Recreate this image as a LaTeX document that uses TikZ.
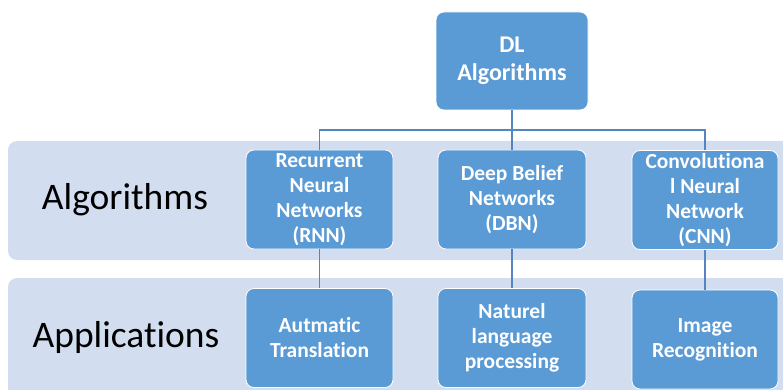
\documentclass[tikz,border=0pt]{standalone}
\usepackage{fontspec}
\setmainfont{Carlito}[Ligatures=NoCommon]
\definecolor{boxblue}{HTML}{5B9BD5}
\definecolor{bandblue}{HTML}{D2DDEF}
\definecolor{linkblue}{HTML}{5585BF}
\tikzset{
  band/.style={fill=bandblue, draw=none, rounded corners=9pt},
  bluebox/.style={fill=boxblue, draw=white, line width=0.8pt, rounded corners=8pt,
    text=white, font=\bfseries\fontsize{21.5}{25}\selectfont, align=center,
    minimum width=147pt, minimum height=99pt, inner sep=0pt},
  topbox/.style={bluebox, font=\bfseries\fontsize{24}{28}\selectfont, minimum width=152pt, minimum height=98pt},
  rowlabel/.style={font=\fontsize{37.5}{42}\selectfont, text=black},
  conn/.style={draw=linkblue, line width=1.3pt}
}
\begin{document}
\begin{tikzpicture}[x=1pt,y=-1pt]
\useasboundingbox (0,0) rectangle (783,390);
\clip (0,0) rectangle (783,390);
% bands
\path[band] (8,141) rectangle (800,260);
\path[band] (8,278) rectangle (800,410);
\node[rowlabel] (lalg) at (125,200) {Algorithms};
\node[rowlabel] (lapp) at (126,337) {Applications};
\coordinate (bus) at (512,130);
% nodes
\node[topbox] (dl) at (512,61) {DL\\Algorithms};
\node[bluebox] (rnn) at (319.5,199.5) {Recurrent\\Neural\\Networks\\(RNN)};
\node[bluebox, minimum width=148pt] (dbn) at (512,199.5) {Deep Belief\\Networks\\(DBN)};
\node[bluebox, minimum width=146pt] (cnn) at (705,200) {Convolutiona\\l Neural\\Network\\(CNN)};
\node[bluebox] (mt) at (319.5,338) {Autmatic\\Translation};
\node[bluebox, minimum width=148pt] (nlp) at (512,338) {Naturel\\language\\processing};
\node[bluebox, minimum width=146pt] (ir) at (705,339.5) {Image\\Recognition};
% connectors
\draw[conn] (dl.south) -- (bus);
\draw[conn] (rnn.north) |- (bus) -| (cnn.north);
\draw[conn] (bus) -- (dbn.north);
\draw[conn] (rnn.south) -- (mt.north);
\draw[conn] (dbn.south) -- (nlp.north);
\draw[conn] (cnn.south) -- (ir.north);
\end{tikzpicture}
\end{document}
